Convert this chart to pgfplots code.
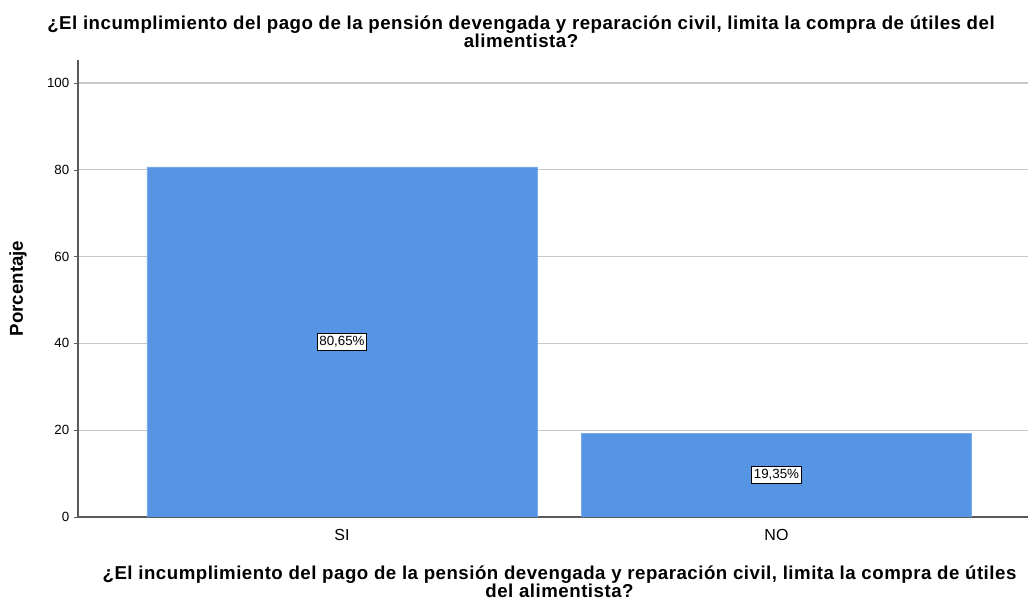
\documentclass[border=0pt]{standalone}
\usepackage{fontspec}
\setmainfont{Liberation Sans}
\newfontfamily\ttlfont[LetterSpace=2.7]{Liberation Sans}
\usepackage{pgfplots}
\pgfplotsset{compat=1.18}
\definecolor{barblue}{RGB}{86,149,227}
\definecolor{gridgray}{RGB}{200,200,200}
\definecolor{axisgray}{RGB}{90,90,90}
\newcommand\ttl{\ttlfont\fontsize{14}{16}\selectfont\bfseries}
\begin{document}
\begin{tikzpicture}[x=0.75pt,y=0.75pt]
\useasboundingbox (0,0) rectangle (1028,606);
\begin{axis}[
    at={(58.5pt,66.75pt)}, anchor=south west,
    scale only axis, width=712.5pt, height=342.75pt,
    xmin=-0.6076, xmax=1.579, ymin=0, ymax=105.3,
    axis lines*=left,
    axis line style={axisgray, line width=0.9pt},
    xtick={0,1}, xticklabels={SI,NO},
    x tick label style={font=\fontsize{12}{14}\selectfont, yshift=-3pt},
    major x tick style={draw=none},
    ytick={0,20,40,60,80,100},
    y tick label style={font=\fontsize{10}{12}\selectfont},
    major y tick style={axisgray},
    tick align=outside, major tick length=3pt,
    ymajorgrids, grid style={gridgray, line width=0.8pt},
    /pgf/number format/assume math mode=true,
    ybar, bar width=0.8976, bar shift=0pt,
    nodes near coords={\pgfmathprintnumber[fixed, precision=2, fixed zerofill, use comma]{\pgfplotspointmeta}\%},
    visualization depends on=y \as \rawy,
    every node near coord/.append style={
        anchor=center, shift={(axis direction cs:0,-\rawy/2)},
        font=\fontsize{10}{12}\selectfont, fill=white, draw=black,
        line width=0.6pt, inner xsep=1.5pt, inner ysep=2.2pt},
]
\addplot[fill=barblue, draw=barblue!80!white] coordinates {(0,80.65) (1,19.35)};
\end{axis}
% y label
\node[font=\fontsize{14}{16}\selectfont\bfseries, rotate=90, inner sep=0pt] at (18,317.5) {Porcentaje};
% title
\node[font=\ttl, anchor=base, inner sep=0pt] at (521,576)
  {¿El incumplimiento del pago de la pensión devengada y reparación civil, limita la compra de útiles del};
\node[font=\ttl, anchor=base, inner sep=0pt] at (521,558.5) {alimentista?};
% x label
\node[font=\ttl, anchor=base, inner sep=0pt] at (559.5,26)
  {¿El incumplimiento del pago de la pensión devengada y reparación civil, limita la compra de útiles};
\node[font=\ttl, anchor=base, inner sep=0pt] at (559.5,8.5) {del alimentista?};
\end{tikzpicture}
\end{document}
